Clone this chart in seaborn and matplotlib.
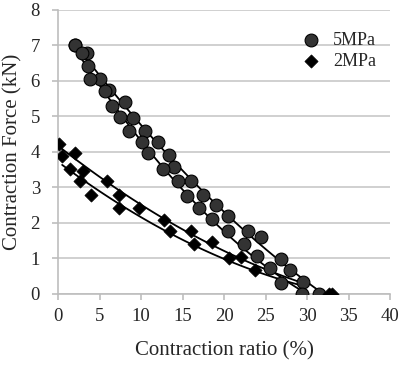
import numpy as np
import pandas as pd
import matplotlib
matplotlib.use("Agg")
import matplotlib.pyplot as plt
import seaborn as sns

# 5MPa, outer branch
x5a = [2.1, 3.5, 5.1, 6.1, 8.1, 9.0, 10.5, 12.1, 13.4, 14.0, 16.0, 17.5, 19.0, 20.5, 22.9, 24.5, 26.9, 28.0, 29.5, 31.4]
y5a = [7.0, 6.78, 6.05, 5.75, 5.4, 4.95, 4.6, 4.27, 3.9, 3.57, 3.19, 2.79, 2.5, 2.2, 1.77, 1.61, 0.99, 0.68, 0.32, 0.0]
# 5MPa, inner branch
x5b = [2.1, 2.9, 3.6, 3.9, 5.7, 6.5, 7.5, 8.6, 10.1, 10.9, 12.7, 14.5, 15.5, 17.0, 18.5, 20.5, 22.4, 24.0, 25.5, 26.9, 29.4]
y5b = [7.0, 6.78, 6.42, 6.05, 5.7, 5.3, 4.98, 4.6, 4.27, 3.98, 3.52, 3.19, 2.76, 2.41, 2.1, 1.77, 1.4, 1.07, 0.74, 0.3, 0.0]
# 2MPa, outer branch
x2a = [0.1, 2.0, 3.05, 5.9, 7.3, 9.7, 12.8, 16.0, 18.5, 22.1, 33.0]
y2a = [4.22, 3.98, 3.47, 3.19, 2.79, 2.43, 2.08, 1.78, 1.45, 1.05, 0.0]
# 2MPa, inner branch
x2b = [0.5, 1.5, 2.6, 4.0, 7.35, 13.5, 16.4, 20.6, 23.7, 32.6]
y2b = [3.89, 3.52, 3.18, 2.79, 2.43, 1.76, 1.4, 1.02, 0.66, 0.0]

x_ticks = [0, 5, 10, 15, 20, 25, 30, 35, 40]
y_ticks = [0, 1, 2, 3, 4, 5, 6, 7, 8]

sns.set_theme(style="white")
plt.rcParams['font.family'] = ['Liberation Serif', 'DejaVu Serif']

fig = plt.figure(figsize=(4.0, 3.65), dpi=100)
ax = fig.add_axes([0.145, 0.195, 0.83, 0.778])

# trend lines (quadratic fits)
for xs, ys, xend in [(x5a, y5a, 31.3), (x5b, y5b, 29.5), (x2a, y2a, 29.8), (x2b, y2b, 29.5)]:
    c = np.polyfit(xs, ys, 2)
    xx = np.linspace(min(xs), xend, 100)
    yy = np.polyval(c, xx)
    d = pd.DataFrame({"x": xx, "y": yy})
    sns.lineplot(data=d, x="x", y="y", ax=ax, color="black", lw=1.3, zorder=2, legend=False)

df5 = pd.DataFrame({"x": x5a + x5b, "y": y5a + y5b})
df2 = pd.DataFrame({"x": x2a + x2b, "y": y2a + y2b})
sns.scatterplot(data=df5, x="x", y="y", ax=ax, marker="o", s=85, color="#333333",
                edgecolor="black", linewidth=0.8, zorder=3, label="5MPa")
sns.scatterplot(data=df2, x="x", y="y", ax=ax, marker="D", s=45, color="black",
                edgecolor="black", linewidth=0.5, zorder=3, label="2MPa")

ax.set_xlim(0, 40)
ax.set_ylim(0, 8)
ax.set_xticks(x_ticks)
ax.set_yticks(y_ticks)
ax.yaxis.grid(True, color="#c8c8c8", lw=1.2)
ax.xaxis.grid(False)
for s in ["top", "right"]:
    ax.spines[s].set_visible(False)
for s in ["left", "bottom"]:
    ax.spines[s].set_color("#bdbdbd")
    ax.spines[s].set_linewidth(1.2)
ax.tick_params(axis="both", which="major", length=4, color="#bdbdbd", width=1.2,
               labelsize=13.5, direction="out", bottom=True, left=True)
ax.tick_params(axis="x", pad=6)
ax.tick_params(axis="y", pad=9)
ax.set_xlabel("Contraction ratio (%)", fontsize=15, labelpad=12)
ax.set_ylabel("Contraction Force (kN)", fontsize=15, labelpad=6)

leg = ax.legend(loc="upper right", frameon=False, fontsize=13, handletextpad=0.2,
                borderaxespad=0.2, labelspacing=0.2, bbox_to_anchor=(0.99, 0.96))

fig.savefig("out.png", dpi=100)
